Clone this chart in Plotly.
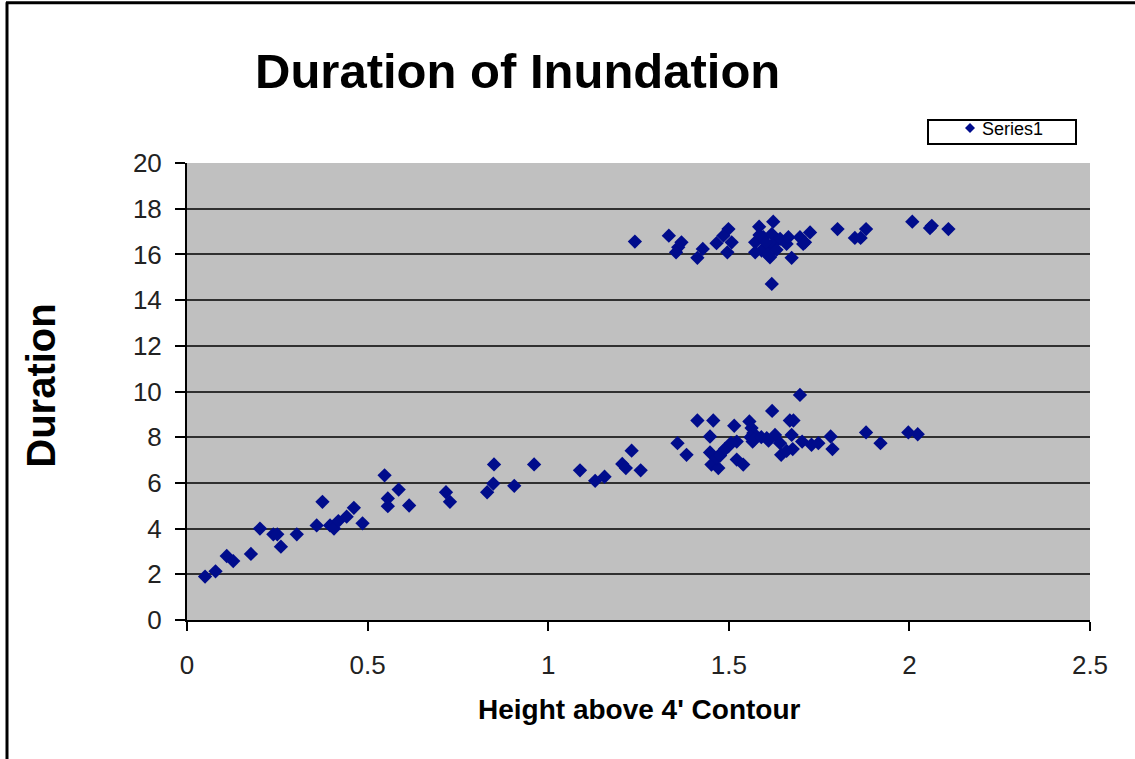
import plotly.graph_objects as go

# ---- data ----
height_low = [0.05, 0.079, 0.11, 0.128, 0.177, 0.202, 0.239, 0.25, 0.26, 0.304,
              0.359, 0.375, 0.396, 0.407, 0.419, 0.442, 0.462, 0.486, 0.547, 0.556,
              0.556, 0.586, 0.615, 0.717, 0.728, 0.831, 0.848, 0.85, 0.906, 0.961,
              1.088, 1.130, 1.156, 1.205, 1.215, 1.231, 1.256, 1.358, 1.383, 1.413,
              1.457, 1.448, 1.448, 1.452, 1.471, 1.466, 1.484, 1.499, 1.515, 1.522,
              1.522, 1.540, 1.557, 1.563, 1.568, 1.566, 1.605, 1.620, 1.628, 1.642,
              1.645, 1.669, 1.679, 1.674, 1.677, 1.697, 1.703, 1.729, 1.748, 1.782,
              1.787, 1.880, 1.920, 1.997, 2.023, 1.476, 1.490, 1.506, 1.560, 1.570,
              1.590, 1.610, 1.660]
duration_low = [1.90, 2.13, 2.80, 2.58, 2.89, 4.00, 3.75, 3.75, 3.21, 3.75,
                4.14, 5.17, 4.14, 4.00, 4.33, 4.52, 4.91, 4.23, 6.33, 5.32,
                4.98, 5.71, 5.01, 5.59, 5.17, 5.59, 5.97, 6.81, 5.87, 6.81,
                6.55, 6.09, 6.27, 6.83, 6.65, 7.41, 6.55, 7.74, 7.23, 8.73,
                8.73, 8.03, 7.33, 6.80, 6.65, 7.09, 7.38, 7.60, 8.50, 7.81,
                7.02, 6.80, 8.69, 8.40, 8.18, 7.81, 7.96, 9.15, 8.10, 7.74,
                7.23, 8.73, 8.73, 8.10, 7.48, 9.85, 7.81, 7.67, 7.74, 8.03,
                7.48, 8.21, 7.74, 8.21, 8.13, 7.20, 7.50, 7.75, 8.00, 7.90,
                8.00, 7.85, 7.40]

height_high = [1.240, 1.334, 1.369, 1.360, 1.354, 1.413, 1.428, 1.466, 1.499, 1.485,
               1.508, 1.496, 1.584, 1.623, 1.573, 1.573, 1.596, 1.605, 1.614, 1.619,
               1.591, 1.623, 1.642, 1.660, 1.665, 1.674, 1.619, 1.697, 1.706, 1.725,
               1.711, 1.801, 1.849, 1.865, 1.880, 2.008, 2.062, 2.057, 2.108, 1.602,
               1.632, 1.585, 1.608]
duration_high = [16.56, 16.82, 16.53, 16.31, 16.09, 15.85, 16.24, 16.49, 17.11, 16.82,
                 16.53, 16.09, 17.21, 17.43, 16.53, 16.09, 16.75, 16.31, 15.87, 16.89,
                 16.17, 16.46, 16.68, 16.46, 16.75, 15.85, 14.71, 16.75, 16.46, 16.96,
                 16.53, 17.11, 16.72, 16.72, 17.11, 17.43, 17.25, 17.15, 17.11, 16.53,
                 16.20, 16.85, 16.00]

x_ticks = [0, 0.5, 1, 1.5, 2, 2.5]
x_tick_labels = ["0", "0.5", "1", "1.5", "2", "2.5"]
y_ticks = [0, 2, 4, 6, 8, 10, 12, 14, 16, 18, 20]

title_text = "Duration of Inundation"
x_title = "Height above 4' Contour"
y_title = "Duration"
series_name = "Series1"

# ---- layout geometry ----
W, H = 1135, 759
L, R, T, B = 187, 1090, 163, 620.5
PW, PH = R - L, B - T


def px(x):
    return (x - L) / PW


def py(y):
    return (B - y) / PH


marker_color = "#000c8c"
font_family = "Liberation Sans, Arial, sans-serif"

fig = go.Figure()
fig.add_trace(go.Scatter(
    x=height_low + height_high,
    y=duration_low + duration_high,
    mode="markers",
    name=series_name,
    marker=dict(symbol="diamond", size=11, color=marker_color,
                line=dict(width=0)),
    showlegend=False,
    cliponaxis=False,
))

shapes = []
# outer chart frame (left and top edges visible)
shapes.append(dict(type="line", xref="paper", yref="paper",
                   x0=px(7), x1=px(7), y0=py(770), y1=py(2),
                   line=dict(color="black", width=3)))
shapes.append(dict(type="line", xref="paper", yref="paper",
                   x0=px(6), x1=px(1140), y0=py(2.5), y1=py(2.5),
                   line=dict(color="black", width=3)))
# legend box
shapes.append(dict(type="rect", xref="paper", yref="paper",
                   x0=px(928), x1=px(1076), y0=py(144), y1=py(120),
                   line=dict(color="black", width=2), fillcolor="white"))
# legend symbol (diamond)
cx, cy, r = 970, 128, 5
shapes.append(dict(type="path", xref="paper", yref="paper",
                   path=f"M {px(cx)} {py(cy - r)} L {px(cx + r)} {py(cy)} "
                        f"L {px(cx)} {py(cy + r)} L {px(cx - r)} {py(cy)} Z",
                   fillcolor=marker_color, line=dict(width=0)))

annotations = [
    dict(text=f"<b>{title_text}</b>", xref="paper", yref="paper",
         x=px(517), y=py(71), showarrow=False, xanchor="center", yanchor="middle",
         font=dict(size=49, color="black", family=font_family)),
    dict(text=f"<b>{y_title}</b>", xref="paper", yref="paper",
         x=px(41), y=py(386), showarrow=False, xanchor="center", yanchor="middle",
         textangle=-90, font=dict(size=40, color="black", family=font_family)),
    dict(text=f"<b>{x_title}</b>", xref="paper", yref="paper",
         x=px(639), y=py(710), showarrow=False, xanchor="center", yanchor="middle",
         font=dict(size=28, color="black", family=font_family)),
    dict(text=series_name, xref="paper", yref="paper",
         x=px(980), y=py(129), showarrow=False, xanchor="left", yanchor="middle",
         font=dict(size=18, color="black", family=font_family)),
]

fig.update_layout(
    width=W, height=H,
    margin=dict(l=L, r=W - R, t=T, b=H - B, pad=0),
    paper_bgcolor="white",
    plot_bgcolor="#c0c0c0",
    shapes=shapes,
    annotations=annotations,
    font=dict(family=font_family, color="black"),
    xaxis=dict(range=[0, 2.5], tickvals=x_ticks, ticktext=x_tick_labels,
               showgrid=False, zeroline=False, showline=True,
               linecolor="black", linewidth=2, ticks="outside", ticklen=9,
               tickwidth=2, tickcolor="black", ticklabelstandoff=12,
               tickfont=dict(size=26, color="#222222")),
    yaxis=dict(range=[0, 20], tickvals=y_ticks,
               showgrid=True, gridcolor="#303030", gridwidth=2,
               zeroline=False, showline=True,
               linecolor="black", linewidth=2, ticks="outside", ticklen=10,
               tickwidth=2, tickcolor="black", ticklabelstandoff=8,
               tickfont=dict(size=26, color="#222222")),
)

fig.write_html("out.html")
